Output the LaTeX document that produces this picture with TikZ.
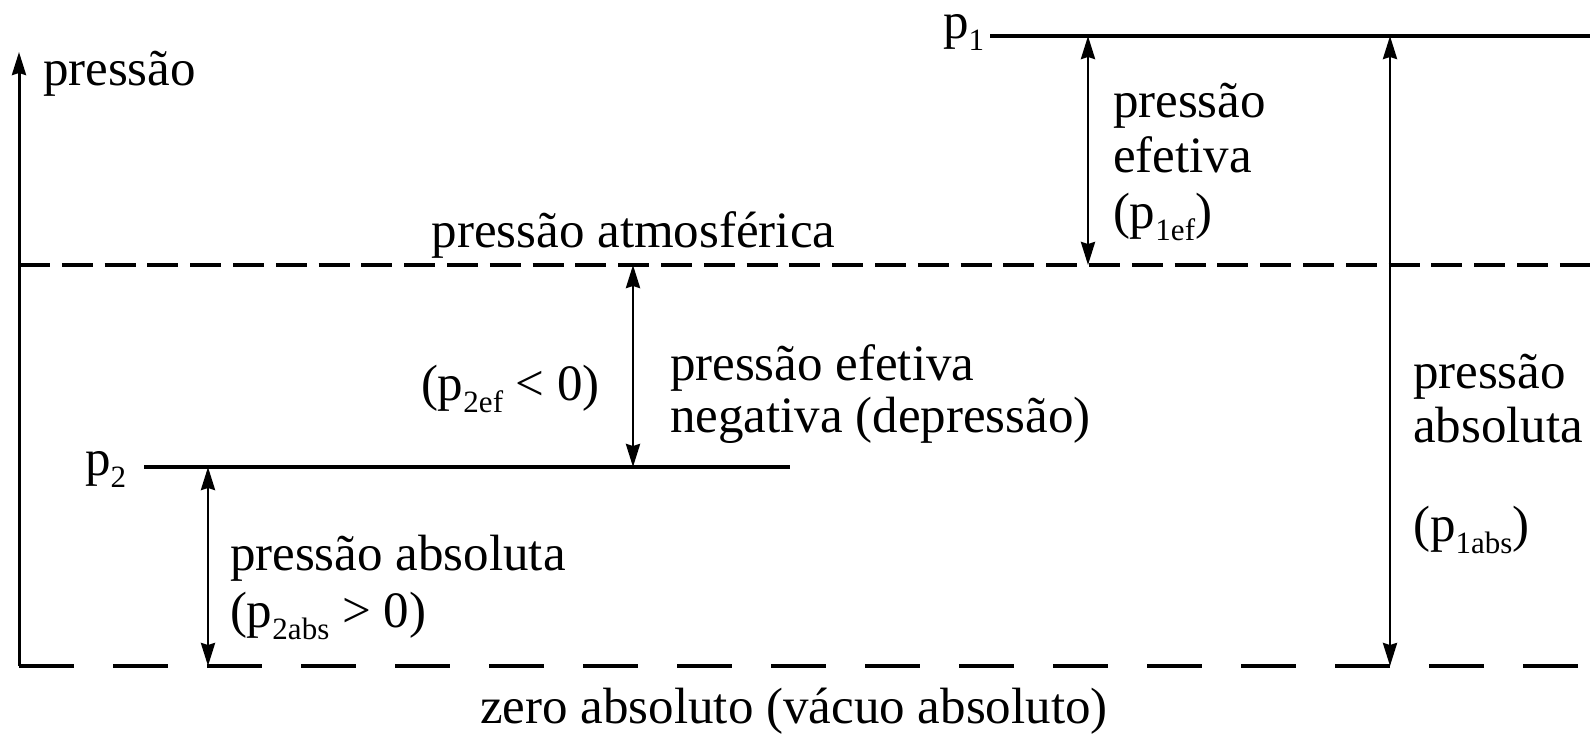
\documentclass[tikz,border=0pt]{standalone}
\usepackage{fontspec}
\setmainfont{Liberation Serif}
\usetikzlibrary{arrows.meta}
\newcommand{\lsub}[1]{\raisebox{-0.24em}{\fontsize{31}{31}\selectfont #1}}
\begin{document}
\begin{tikzpicture}[x=1pt,y=-1pt,
  every node/.style={inner sep=0pt, outer sep=0pt, font=\fontsize{51}{56}\selectfont},
  txt/.style={anchor=base west},
  ctxt/.style={anchor=base},
  solidline/.style={line width=3.3pt},
  atmline/.style={line width=3.3pt, dash pattern=on 31pt off 11.8pt},
  vacline/.style={line width=3.3pt, dash pattern=on 55pt off 39pt},
  tip/.tip={Stealth[length=23pt,width=14pt,inset=2pt]},
  dimarrow/.style={line width=2.8pt, tip-tip},
  axisarrow/.style={line width=3pt, -tip}
]
\useasboundingbox (0,0) rectangle (1595,736);
% reference points
\coordinate (axB) at (19,666);
\coordinate (axT) at (19,52);
\coordinate (atmL) at (19,265);
\coordinate (atmR) at (1590,265);
\coordinate (vacR) at (1590,666);
\coordinate (p1L) at (990,36);
\coordinate (p1R) at (1590,36);
\coordinate (p2L) at (144,467);
\coordinate (p2R) at (790,467);
\coordinate (efT) at (1088,36);
\coordinate (efB) at (1088,265);
\coordinate (abT) at (1390,36);
\coordinate (abB) at (1390,666);
\coordinate (nT) at (633,265);
\coordinate (nB) at (633,467);
\coordinate (a2T) at (208,467);
\coordinate (a2B) at (208,666);
% lines
\draw[axisarrow] (axB) -- (axT);
\draw[atmline] (atmL) -- (atmR);
\draw[vacline] (axB) -- (vacR);
\draw[solidline] (p1L) -- (p1R);
\draw[solidline] (p2L) -- (p2R);
% arrows
\draw[dimarrow] (efT) -- (efB);
\draw[dimarrow] (abT) -- (abB);
\draw[dimarrow] (nT) -- (nB);
\draw[dimarrow] (a2T) -- (a2B);
% labels
\node[txt] (lblP) at (43,85) {pressão};
\node[txt] (lblp1) at (943,38) {p\lsub{1}};
\node[txt] (lblp2) at (85,475) {p\lsub{2}};
\node[ctxt] (atm) at (633.5,247) {pressão atmosférica};
\node[txt] (efA) at (1113,117) {pressão};
\node[txt] (efB2) at (1113,172) {efetiva};
\node[txt] (efC) at (1113,228) {(p\lsub{1ef})};
\node[txt] (abA) at (1413,388) {pressão};
\node[txt] (abB2) at (1413,442) {absoluta};
\node[txt] (abC) at (1413,541) {(p\lsub{1abs})};
\node[txt] (negA) at (670,380) {pressão efetiva};
\node[txt] (negB) at (670,432) {negativa (depressão)};
\node[txt] (negC) at (421,400) {(p\lsub{2ef} < 0)};
\node[txt] (a2A) at (230,570) {pressão absoluta};
\node[txt] (a2B2) at (230,627) {(p\lsub{2abs} > 0)};
\node[ctxt] (zero) at (794,723) {zero absoluto (vácuo absoluto)};
\end{tikzpicture}
\end{document}
